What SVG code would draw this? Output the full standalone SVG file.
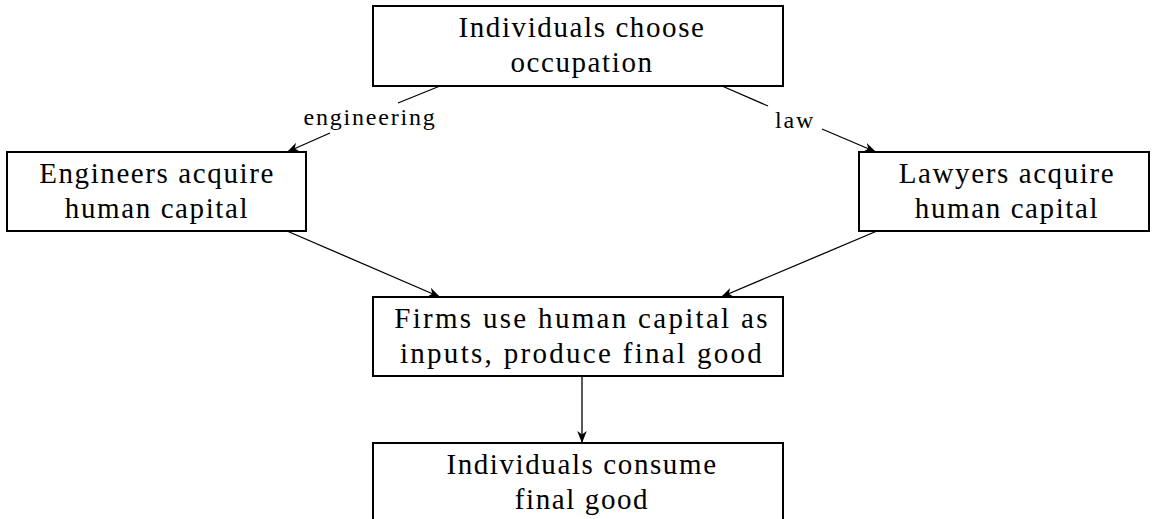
<svg xmlns="http://www.w3.org/2000/svg" width="1156" height="519" viewBox="0 0 1156 519">
<style>
.box{fill:#fff;stroke:#000;stroke-width:2}
.t{font-family:"Liberation Serif","Times New Roman",serif;font-size:29px;letter-spacing:1.6px;text-anchor:middle;fill:#000}
.w{letter-spacing:2.3px}
.l{font-family:"Liberation Serif","Times New Roman",serif;font-size:24px;letter-spacing:1.8px;text-anchor:middle;fill:#000}
.c{stroke:#000;stroke-width:1.3;fill:none}
</style>
<defs>
<marker id="a" viewBox="0 0 10 10" refX="10" refY="5" markerWidth="12" markerHeight="12" markerUnits="userSpaceOnUse" orient="auto">
<path d="M0,1 L10,5 L0,9 L3,5 Z" fill="#000"/>
</marker>
</defs>
<rect width="1156" height="519" fill="#fff"/>
<g id="connectors">
<line class="c" x1="440" y1="86" x2="398" y2="103"/>
<line class="c" x1="330" y1="133" x2="287" y2="152" marker-end="url(#a)"/>
<line class="c" x1="722" y1="86" x2="768" y2="106"/>
<line class="c" x1="822" y1="129" x2="876" y2="152" marker-end="url(#a)"/>
<line class="c" x1="287" y1="231" x2="440" y2="297" marker-end="url(#a)"/>
<line class="c" x1="877" y1="231" x2="721" y2="297" marker-end="url(#a)"/>
<line class="c" x1="582" y1="376" x2="582" y2="443" marker-end="url(#a)"/>
<text class="l" x="370" y="125">engineering</text>
<text class="l" x="795" y="128">law</text>
</g>
<g id="n1">
<rect class="box" x="373" y="6" width="410" height="80"/>
<text class="t" x="582" y="37">Individuals choose</text>
<text class="t" x="582" y="72">occupation</text>
</g>
<g id="n2">
<rect class="box" x="7" y="152" width="299" height="79"/>
<text class="t" x="157" y="183">Engineers acquire</text>
<text class="t" x="157" y="218">human capital</text>
</g>
<g id="n3">
<rect class="box" x="859" y="152" width="290" height="79"/>
<text class="t" x="1007" y="183">Lawyers acquire</text>
<text class="t" x="1007" y="218">human capital</text>
</g>
<g id="n4">
<rect class="box" x="373" y="297" width="410" height="79"/>
<text class="t w" x="582" y="328">Firms use human capital as</text>
<text class="t w" x="582" y="363">inputs, produce final good</text>
</g>
<g id="n5">
<rect class="box" x="373" y="443" width="410" height="90"/>
<text class="t" x="582" y="474">Individuals consume</text>
<text class="t" x="582" y="509">final good</text>
</g>
</svg>
